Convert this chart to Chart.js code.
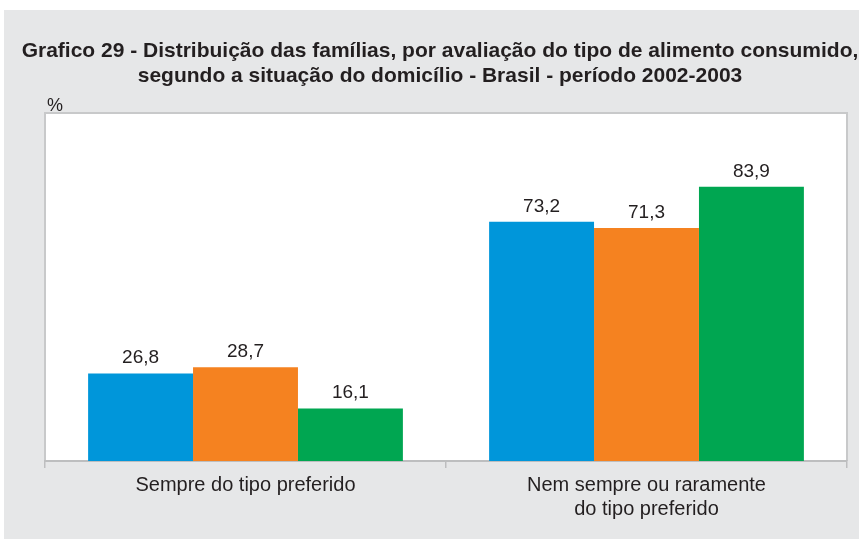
<!DOCTYPE html>
<html>
<head>
<meta charset="utf-8">
<script src="https://cdn.jsdelivr.net/npm/chart.js@4.4.1/dist/chart.umd.min.js"></script>
<style>
  html, body { margin: 0; padding: 0; background: #ffffff; }
  #bg { position: absolute; left: 4px; top: 10px; width: 855px; height: 529px; background: #e6e7e8; }
  #wrap { position: absolute; left: 0; top: 0; width: 859px; height: 539px; }
</style>
</head>
<body>
<div id="bg"></div>
<div id="wrap"><canvas id="c" width="859" height="539"></canvas></div>
<script>
const titleLines = [
  "Grafico 29 - Distribuição das famílias, por avaliação do tipo de alimento consumido,",
  "segundo a situação do domicílio - Brasil - período 2002-2003"
];
const unitLabel = "%";
const categories = [
  ["Sempre do tipo preferido"],
  ["Nem sempre ou raramente", "do tipo preferido"]
];
const seriesNames = ["Série 1", "Série 2", "Série 3"];
const seriesA = [26.8, 73.2];
const seriesB = [28.7, 71.3];
const seriesC = [16.1, 83.9];
const seriesColors = ["#0096da", "#f58220", "#00a651"];

const fmt = v => v.toFixed(1).replace(".", ",");

const framePlugin = {
  id: "frame",
  beforeDraw(chart) {
    const { ctx, chartArea: a } = chart;
    ctx.save();
    ctx.fillStyle = "#ffffff";
    ctx.fillRect(a.left, a.top, a.right - a.left, a.bottom - a.top);
    ctx.strokeStyle = "#c8c9ca";
    ctx.lineWidth = 2;
    ctx.beginPath();
    ctx.moveTo(a.left, a.bottom);
    ctx.lineTo(a.left, a.top);
    ctx.lineTo(a.right, a.top);
    ctx.lineTo(a.right, a.bottom);
    ctx.stroke();
    // title
    ctx.fillStyle = "#231f20";
    ctx.textAlign = "center";
    ctx.textBaseline = "middle";
    ctx.font = "bold 21px 'Liberation Sans', Arial, sans-serif";
    ctx.fillText(titleLines[0], 440, 51);
    ctx.fillText(titleLines[1], 440, 76);
    // unit
    ctx.textAlign = "left";
    ctx.textBaseline = "alphabetic";
    ctx.font = "18px 'Liberation Sans', Arial, sans-serif";
    ctx.fillText(unitLabel, a.left + 2, a.top - 2);
    ctx.restore();
  },
  afterDatasetsDraw(chart) {
    const { ctx } = chart;
    ctx.save();
    ctx.fillStyle = "#231f20";
    ctx.textAlign = "center";
    ctx.textBaseline = "alphabetic";
    ctx.font = "19px 'Liberation Sans', Arial, sans-serif";
    chart.data.datasets.forEach((ds, i) => {
      chart.getDatasetMeta(i).data.forEach((bar, j) => {
        ctx.fillText(fmt(ds.data[j]), bar.x, bar.y - 10);
      });
    });
    ctx.restore();
  }
};

new Chart(document.getElementById("c"), {
  type: "bar",
  data: {
    labels: categories,
    datasets: [
      { label: seriesNames[0], data: seriesA, backgroundColor: seriesColors[0] },
      { label: seriesNames[1], data: seriesB, backgroundColor: seriesColors[1] },
      { label: seriesNames[2], data: seriesC, backgroundColor: seriesColors[2] }
    ]
  },
  options: {
    responsive: false,
    animation: false,
    layout: { padding: { left: 45, right: 12, top: 113, bottom: 0 } },
    datasets: { bar: { categoryPercentage: 0.785, barPercentage: 1.0, borderWidth: 0 } },
    plugins: { legend: { display: false }, title: { display: false }, tooltip: { enabled: false } },
    scales: {
      y: { display: false, min: 0, max: 106.5 },
      x: {
        afterFit(scale) { scale.height = 78; },
        border: { display: true, color: "#bdbebf", width: 2 },
        grid: { display: true, drawOnChartArea: false, drawTicks: true, tickLength: 7, color: "#bdbebf", lineWidth: 1.5, offset: true },
        ticks: {
          color: "#231f20",
          padding: 5,
          font: { family: "'Liberation Sans', Arial, sans-serif", size: 20 },
          maxRotation: 0,
          autoSkip: false
        }
      }
    }
  },
  plugins: [framePlugin]
});
</script>
</body>
</html>
